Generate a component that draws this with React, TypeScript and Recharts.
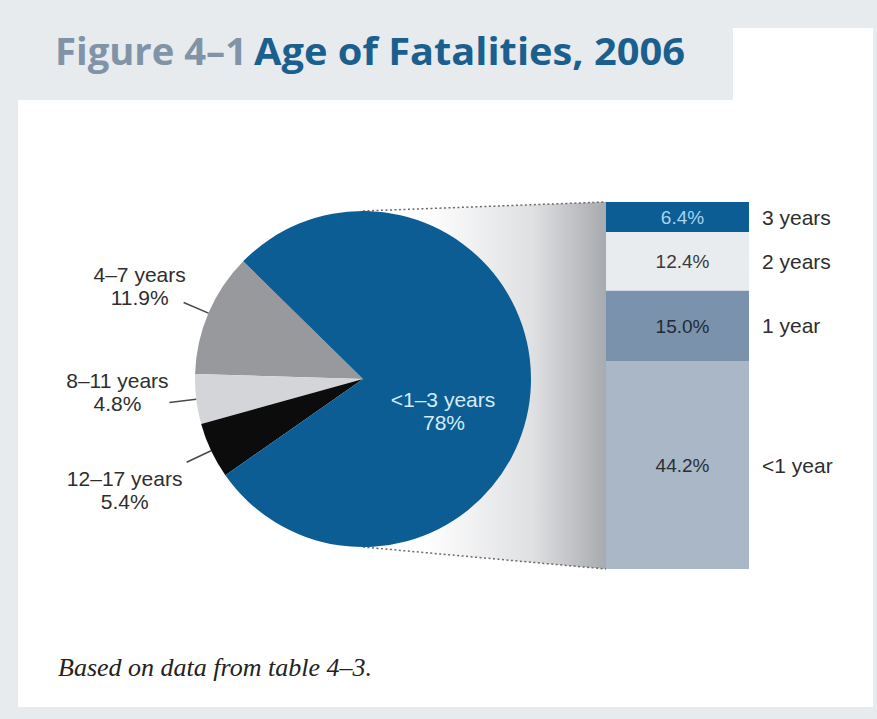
import React from "react";
import { PieChart, Pie, Cell, BarChart, Bar, XAxis, YAxis, LabelList } from "recharts";

// ---- data ----
const pieNames = ["4–7 years", "8–11 years", "12–17 years", "<1–3 years"];
const pieValues = [11.9, 4.8, 5.4, 78];
const pieValueLabels = ["11.9%", "4.8%", "5.4%", "78%"];

const segKeys = ["lt1", "y1", "y2", "y3"];
const segNames = ["<1 year", "1 year", "2 years", "3 years"];
const segValues = [44.2, 15.0, 12.4, 6.4];
const segValueLabels = ["44.2%", "15.0%", "12.4%", "6.4%"];

const TITLE_A = "Figure 4–1";
const TITLE_B = "Age of Fatalities, 2006";
const FOOTNOTE = "Based on data from table 4–3.";

// ---- styles / layout ----
const W = 877;
const H = 719;
const BG = "#e8ebee";
const PIE_COLORS = ["#97999c", "#d3d5d8", "#0c0c0c", "#0b5d94"];
const SEG_COLORS = ["#aab7c7", "#7a92ab", "#e9ecef", "#0b5d94"];
const SEG_TEXT = ["#2a2f36", "#1f2a36", "#3a3a3a", "#a9d3f0"];
const PIE_CX = 363;
const PIE_CY = 379;
const PIE_R = 168;
const PIE_START = 135.5;
const BAR_X = 606;
const BAR_TOP = 202;
const BAR_W = 143;
const BAR_H = 367;
const SANS = "'Liberation Sans', Arial, sans-serif";
const LABEL_FS = 21;
const LABEL_OFFSETS = [
  { dx: -44, dy1: -20, dy2: 3 },
  { dx: -52, dy1: -15, dy2: 8 },
  { dx: -62, dy1: 24, dy2: 47 },
];

const pieData = pieNames.map((name, i) => ({ name, value: pieValues[i] }));
const barRow: Record<string, any> = { name: "<1–3 years" };
segKeys.forEach((k, i) => (barRow[k] = segValues[i]));
const barData = [barRow];
const barTotal = segValues.reduce((a, b) => a + b, 0);

const RAD = Math.PI / 180;

function renderPieLabel(props: any) {
  const { cx, cy, midAngle, outerRadius, index } = props;
  if (index === 3) {
    return (
      <g key={"pl" + index}>
        <text x={cx + 80} y={cy + 28} textAnchor="middle" fontFamily={SANS} fontSize={LABEL_FS} fill="#d6ebf7">
          {pieNames[index]}
        </text>
        <text x={cx + 81} y={cy + 51} textAnchor="middle" fontFamily={SANS} fontSize={LABEL_FS} fill="#d6ebf7">
          {pieValueLabels[index]}
        </text>
      </g>
    );
  }
  const cos = Math.cos(-midAngle * RAD);
  const sin = Math.sin(-midAngle * RAD);
  const x1 = cx + outerRadius * cos;
  const y1 = cy + outerRadius * sin;
  const x2 = cx + (outerRadius + 27) * cos;
  const y2 = cy + (outerRadius + 27) * sin;
  const o = LABEL_OFFSETS[index];
  return (
    <g key={"pl" + index}>
      <line x1={x1} y1={y1} x2={x2} y2={y2} stroke="#4a4a4a" strokeWidth={1.5} />
      <text x={x2 + o.dx} y={y2 + o.dy1} textAnchor="middle" fontFamily={SANS} fontSize={LABEL_FS} fill="#2e2e2e">
        {pieNames[index]}
      </text>
      <text x={x2 + o.dx} y={y2 + o.dy2} textAnchor="middle" fontFamily={SANS} fontSize={LABEL_FS} fill="#2e2e2e">
        {pieValueLabels[index]}
      </text>
    </g>
  );
}

function makeSideLabel(i: number) {
  return (p: any) => {
    const x = Number(p.x);
    const y = Number(p.y);
    const w = Number(p.width);
    const h = Number(p.height);
    return (
      <g>
        <text x={x + w / 2 + 5} y={y + h / 2} dy="0.36em" textAnchor="middle" fontFamily={SANS} fontSize={19} fill={SEG_TEXT[i]}>
          {segValueLabels[i]}
        </text>
        <text x={x + w + 13} y={y + h / 2} dy="0.36em" textAnchor="start" fontFamily={SANS} fontSize={LABEL_FS} fill="#2e2e2e">
          {segNames[i]}
        </text>
      </g>
    );
  };
}

export default function App() {
  const topY = PIE_CY - PIE_R;
  const botY = PIE_CY + PIE_R;
  return (
    <div style={{ position: "absolute", left: 0, top: 0, width: W, height: H, background: BG, overflow: "hidden" }}>
      {/* white panel */}
      <div style={{ position: "absolute", left: 18, top: 100, width: 855, height: 607, background: "#ffffff" }} />
      <div style={{ position: "absolute", left: 733, top: 28, width: 140, height: 80, background: "#ffffff" }} />

      {/* title, connector, footnote */}
      <svg width={W} height={H} style={{ position: "absolute", left: 0, top: 0 }}>
        <defs>
          <linearGradient id="conn" gradientUnits="userSpaceOnUse" x1={PIE_CX + 60} y1={0} x2={BAR_X} y2={0}>
            <stop offset="0" stopColor="#ffffff" />
            <stop offset="0.6" stopColor="#dfe0e2" />
            <stop offset="1" stopColor="#a7aaae" />
          </linearGradient>
        </defs>
        <text x={55} y={65} fontFamily="'Open Sans', sans-serif" fontWeight={700} fontSize={37} fill="#8193a6" textLength={192} lengthAdjust="spacingAndGlyphs">
          {TITLE_A}
        </text>
        <text x={254} y={65} fontFamily="'Open Sans', sans-serif" fontWeight={700} fontSize={37} fill="#1a5f8e" textLength={431} lengthAdjust="spacingAndGlyphs">
          {TITLE_B}
        </text>
        <polygon
          points={`${PIE_CX},${topY} ${BAR_X},${BAR_TOP} ${BAR_X},${BAR_TOP + BAR_H} ${PIE_CX},${botY}`}
          fill="url(#conn)"
        />
        <line x1={PIE_CX} y1={topY} x2={BAR_X} y2={BAR_TOP} stroke="#6a6a6a" strokeWidth={1.5} strokeDasharray="2 2.5" />
        <line x1={PIE_CX} y1={botY} x2={BAR_X} y2={BAR_TOP + BAR_H} stroke="#6a6a6a" strokeWidth={1.5} strokeDasharray="2 2.5" />
        <text x={58} y={676} fontFamily="'Liberation Serif', serif" fontStyle="italic" fontSize={25} fill="#222" textLength={314} lengthAdjust="spacingAndGlyphs">
          {FOOTNOTE}
        </text>
      </svg>

      {/* pie */}
      <div style={{ position: "absolute", left: 0, top: 0 }}>
        <PieChart width={W} height={H} margin={{ top: 0, right: 0, bottom: 0, left: 0 }}>
          <Pie
            data={pieData}
            dataKey="value"
            nameKey="name"
            cx={PIE_CX}
            cy={PIE_CY}
            outerRadius={PIE_R}
            startAngle={PIE_START}
            endAngle={PIE_START + 360}
            stroke="none"
            isAnimationActive={false}
            label={renderPieLabel}
            labelLine={false}
          >
            {pieData.map((d, i) => (
              <Cell key={d.name} fill={PIE_COLORS[i]} />
            ))}
          </Pie>
        </PieChart>
      </div>

      {/* stacked bar */}
      <div style={{ position: "absolute", left: BAR_X, top: BAR_TOP }}>
        <BarChart
          width={BAR_W + 130}
          height={BAR_H}
          data={barData}
          margin={{ top: 0, right: 130, bottom: 0, left: 0 }}
          barCategoryGap="0%"
          barGap={0}
        >
          <XAxis dataKey="name" hide />
          <YAxis hide domain={[0, barTotal]} />
          {segKeys.map((k, i) => (
            <Bar key={k} dataKey={k} stackId="s" fill={SEG_COLORS[i]} isAnimationActive={false}>
              <LabelList dataKey={k} content={makeSideLabel(i)} />
            </Bar>
          ))}
        </BarChart>
      </div>
    </div>
  );
}
